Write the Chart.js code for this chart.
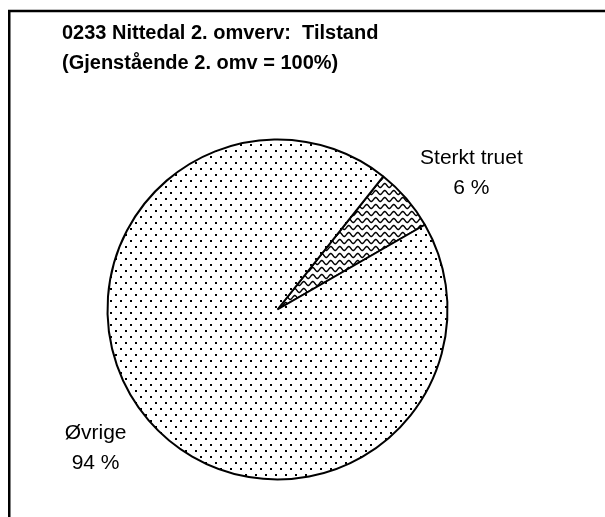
<!DOCTYPE html>
<html>
<head>
<meta charset="utf-8">
<script src="https://cdn.jsdelivr.net/npm/chart.js@4/dist/chart.umd.min.js"></script>
<style>
  html, body { margin: 0; padding: 0; background: #fff; }
  #wrap { width: 605px; height: 517px; }
</style>
</head>
<body>
<div id="wrap"><canvas id="pieChart" width="605" height="517"></canvas></div>
<script>
// chart data
const categories = ['Sterkt truet', 'Øvrige'];
const shares = [6, 94];
const shareLabels = ['6 %', '94 %'];
const titleLines = ['0233 Nittedal 2. omverv:  Tilstand', '(Gjenstående 2. omv = 100%)'];

// fill patterns, like the old excel hatches
function dotPattern() {
    const c = document.createElement('canvas');
    c.width = 10; c.height = 12;
    const g = c.getContext('2d');
    g.fillStyle = '#fff';
    g.fillRect(0, 0, 10, 12);
    g.fillStyle = '#000';
    g.fillRect(0, 0, 2, 2);
    g.fillRect(5, 6, 2, 2);
    return g.createPattern(c, 'repeat');
}

function wavePattern() {
    const c = document.createElement('canvas');
    c.width = 9; c.height = 7;
    const g = c.getContext('2d');
    g.fillStyle = '#fff';
    g.fillRect(0, 0, 9, 7);
    g.strokeStyle = '#000';
    g.lineWidth = 1.4;
    g.beginPath();
    for (let x = -1; x <= 10; x += 0.5) {
        const y = 3.5 + 2 * Math.sin(x / 9 * Math.PI * 2);
        if (x === -1) g.moveTo(x, y); else g.lineTo(x, y);
    }
    g.stroke();
    return g.createPattern(c, 'repeat');
}

// frame + title
const framePlugin = {
    id: 'frame',
    beforeDraw(chart) {
        const ctx = chart.ctx;
        ctx.save();
        ctx.fillStyle = '#fff';
        ctx.fillRect(0, 0, chart.width, chart.height);
        ctx.strokeStyle = '#000';
        ctx.lineWidth = 2.5;
        ctx.strokeRect(9.25, 11, 700, 600);
        ctx.fillStyle = '#000';
        ctx.font = 'bold 20px "Liberation Sans", Arial, sans-serif';
        ctx.textAlign = 'left';
        ctx.textBaseline = 'alphabetic';
        ctx.fillText(titleLines[0], 62, 39);
        ctx.fillText(titleLines[1], 62, 69);
        ctx.restore();
    }
};

// category + percent next to each slice
const sliceLabels = {
    id: 'sliceLabels',
    afterDatasetsDraw(chart) {
        const ctx = chart.ctx;
        const arcs = chart.getDatasetMeta(0).data;
        ctx.save();
        ctx.fillStyle = '#000';
        ctx.font = '21px "Liberation Sans", Arial, sans-serif';
        ctx.textAlign = 'center';
        ctx.textBaseline = 'middle';
        arcs.forEach((arc, i) => {
            const p = arc.getProps(['x', 'y', 'startAngle', 'endAngle', 'outerRadius'], true);
            const mid = (p.startAngle + p.endAngle) / 2 + 4.5 * Math.PI / 180;
            const d = p.outerRadius * 1.37;
            const cx = p.x + Math.cos(mid) * d + 6;
            const cy = p.y + Math.sin(mid) * d;
            ctx.fillText(categories[i], cx, cy - 14);
            ctx.fillText(shareLabels[i], cx, cy + 16);
        });
        ctx.restore();
    }
};

new Chart(document.getElementById('pieChart'), {
    type: 'pie',
    data: {
        labels: categories,
        datasets: [{
            data: shares,
            backgroundColor: [wavePattern(), dotPattern()],
            borderColor: '#000',
            borderWidth: 2,
            radius: 170
        }]
    },
    options: {
        responsive: false,
        animation: false,
        rotation: 38.5,
        layout: { padding: { left: 20, right: 70, top: 110, bottom: 8 } },
        plugins: {
            legend: { display: false },
            tooltip: { enabled: false }
        }
    },
    plugins: [framePlugin, sliceLabels]
});
</script>
</body>
</html>
